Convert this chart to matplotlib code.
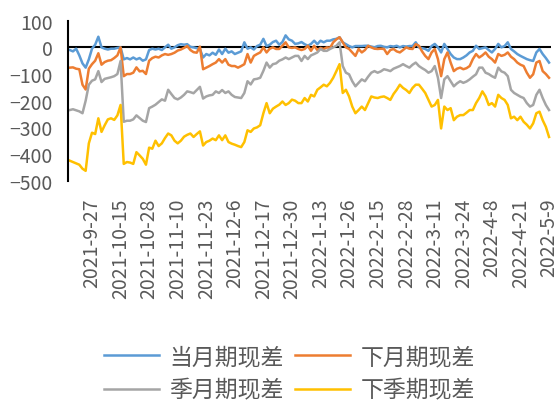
import numpy as np
import pandas as pd
import matplotlib
matplotlib.use("Agg")
import matplotlib.pyplot as plt

plt.rcParams['font.family'] = ['Noto Sans CJK SC', 'DejaVu Sans']

# trading days 2021-09-14 .. 2022-05-09 (exchange holidays removed)
holidays = ['2021-09-20', '2021-09-21', '2021-10-01', '2021-10-04', '2021-10-05',
            '2021-10-06', '2021-10-07', '2022-01-03', '2022-01-31', '2022-02-01',
            '2022-02-02', '2022-02-03', '2022-02-04', '2022-04-04', '2022-04-05',
            '2022-05-02', '2022-05-03', '2022-05-04']
days = pd.bdate_range('2021-09-14', '2022-05-09')
days = days[~days.isin(pd.to_datetime(holidays))]
day_labels = [f"{d.year}-{d.month}-{d.day}" for d in days]

tick_labels = ['2021-9-27', '2021-10-15', '2021-10-28', '2021-11-10', '2021-11-23',
               '2021-12-6', '2021-12-17', '2021-12-30', '2022-1-13', '2022-1-26',
               '2022-2-15', '2022-2-28', '2022-3-11', '2022-3-24', '2022-4-8',
               '2022-4-21', '2022-5-9']

cur_month = [-10, -15, -5, -30, -60, -76, -45, -5, 10, 40,
             0, -5, -8, -5, -5, -2, 0, -45, -40, -45,
             -38, -45, -40, -50, -45, -10, -5, -8, -5, -10,
             0, 10, -5, 0, 8, 12, 10, 12, 2, 0,
             -3, -6, -38, -25, -30, -20, -28, -8, -25, -5,
             -20, -15, -25, -20, -15, 19, -5, 0, -8, 5,
             10, 32, 5, 10, 20, 25, 10, 20, 45, 30,
             25, 13, 15, 20, 12, 6, 13, 25, 12, 25,
             19, 25, 25, 30, 32, 38, 19, 12, 5, 0,
             5, 5, 5, 6, 6, 3, 0, 5, 6, 2,
             0, 5, 3, 6, 0, 5, 3, 5, 5, 19,
             0, -3, -6, -13, 5, 13, 0, -19, 13, -6,
             -25, -38, -44, -44, -38, -30, -19, -13, 6, -6,
             -3, 0, -10, -19, -6, 13, 0, 5, 19, -6,
             -15, -25, -32, -38, -44, -48, -51, -19, -6, -25,
             -40, -57]

next_month = [-76, -75, -80, -82, -140, -158, -80, -63, -50, -22,
              -65, -55, -50, -48, -40, -30, 0, -108, -100, -100,
              -95, -75, -90, -88, -100, -50, -40, -35, -38, -30,
              -25, -28, -25, -20, -12, -8, -2, 5, -10, -18,
              -20, 3, -82, -76, -70, -63, -57, -44, -57, -44,
              -65, -70, -70, -76, -70, -63, -25, -57, -32, -25,
              -19, 0, -19, -5, 0, -6, -6, 6, 19, 0,
              -2, 0, -6, -10, -6, 6, -13, 6, -10, -2,
              -6, 0, -2, 19, 30, 38, 19, 0, -6, -19,
              -32, -6, -19, -10, 6, 0, -5, -6, -5, -6,
              -25, -10, -6, -15, -19, -10, 0, -5, -6, 12,
              6, -15, -32, -44, -19, -6, -44, -108, -44, -19,
              -57, -89, -80, -76, -82, -78, -70, -44, -25, -38,
              -30, -19, -35, -44, -57, -25, -32, -28, -19, -35,
              -44, -57, -65, -70, -95, -114, -101, -57, -51, -89,
              -100, -114]

quarter = [-235, -232, -236, -240, -247, -200, -140, -125, -120, -89,
           -130, -118, -115, -112, -108, -100, -51, -279, -275, -275,
           -270, -255, -265, -275, -280, -228, -222, -215, -205, -195,
           -200, -159, -175, -190, -195, -188, -178, -165, -168, -172,
           -160, -148, -192, -184, -180, -178, -165, -171, -160, -171,
           -165, -178, -186, -188, -190, -171, -127, -139, -120, -118,
           -114, -88, -57, -76, -63, -60, -50, -45, -38, -44,
           -38, -32, -32, -51, -32, -44, -30, -25, -19, -6,
           -13, -13, -6, 0, 6, 19, -70, -95, -101, -127,
           -146, -133, -120, -127, -110, -95, -89, -95, -90, -82,
           -85, -89, -80, -75, -70, -63, -70, -76, -65, -57,
           -70, -78, -85, -95, -89, -70, -114, -190, -120, -108,
           -127, -146, -135, -127, -133, -128, -120, -110, -101, -76,
           -76, -95, -100, -108, -114, -76, -90, -95, -108, -159,
           -171, -178, -185, -190, -209, -222, -216, -178, -159, -190,
           -216, -235]

next_quarter = [-425, -430, -435, -440, -455, -463, -360, -320, -325, -266,
                -317, -292, -270, -266, -272, -255, -216, -437, -430, -432,
                -437, -393, -405, -418, -440, -376, -380, -350, -370, -360,
                -340, -323, -330, -350, -360, -350, -335, -328, -323, -336,
                -325, -315, -368, -355, -350, -342, -348, -330, -348, -330,
                -355, -361, -365, -370, -374, -355, -311, -317, -304, -300,
                -292, -247, -209, -247, -230, -222, -215, -203, -216, -209,
                -196, -200, -209, -209, -190, -203, -178, -184, -159, -150,
                -140, -146, -133, -114, -89, -63, -171, -159, -184, -222,
                -247, -235, -222, -235, -209, -184, -188, -190, -186, -184,
                -190, -197, -175, -159, -140, -152, -160, -171, -152, -140,
                -140, -155, -171, -197, -222, -216, -197, -304, -222, -235,
                -228, -273, -260, -254, -254, -245, -235, -235, -209, -190,
                -165, -184, -216, -209, -222, -178, -190, -197, -216, -266,
                -260, -273, -260, -279, -290, -304, -285, -247, -241, -273,
                -298, -336]

series = [('当月期现差', cur_month, '#5B9BD5'),
          ('下月期现差', next_month, '#ED7D31'),
          ('季月期现差', quarter, '#A5A5A5'),
          ('下季期现差', next_quarter, '#FFC000')]

txt = '#595959'
fig = plt.figure(figsize=(5.59, 4.02), dpi=100)
ax = fig.add_axes([0.122, 0.548, 0.863, 0.398])

x = np.arange(len(days))
lines = {}
for name, vals, col in series:
    lines[name], = ax.plot(x, vals, color=col, lw=1.8, label=name, solid_joinstyle='round')

ax.axhline(0, color='black', lw=1.5, zorder=1)
ax.set_xlim(-0.5, len(days) - 0.5)
ax.set_ylim(-500, 100)
ax.set_yticks(range(-500, 101, 100))

ax.set_xticks([day_labels.index(t) for t in tick_labels])
ax.set_xticklabels(tick_labels, rotation=90, va='top', ha='center')

for s in ['top', 'right', 'bottom']:
    ax.spines[s].set_visible(False)
ax.spines['left'].set_color('black')
ax.spines['left'].set_linewidth(1.5)
ax.tick_params(axis='both', length=0, colors=txt, labelsize=14)
ax.tick_params(axis='y', pad=11)
ax.tick_params(axis='x', pad=12)

order = ['当月期现差', '季月期现差', '下月期现差', '下季期现差']
leg = fig.legend([lines[n] for n in order], order, ncol=2, loc='center',
                 bbox_to_anchor=(0.518, 0.068), frameon=False, fontsize=16.5,
                 handlelength=2.4, handletextpad=0.45, columnspacing=0.5,
                 labelspacing=0.45, borderpad=0)
for t in leg.get_texts():
    t.set_color(txt)

fig.savefig('out.png', dpi=100)
